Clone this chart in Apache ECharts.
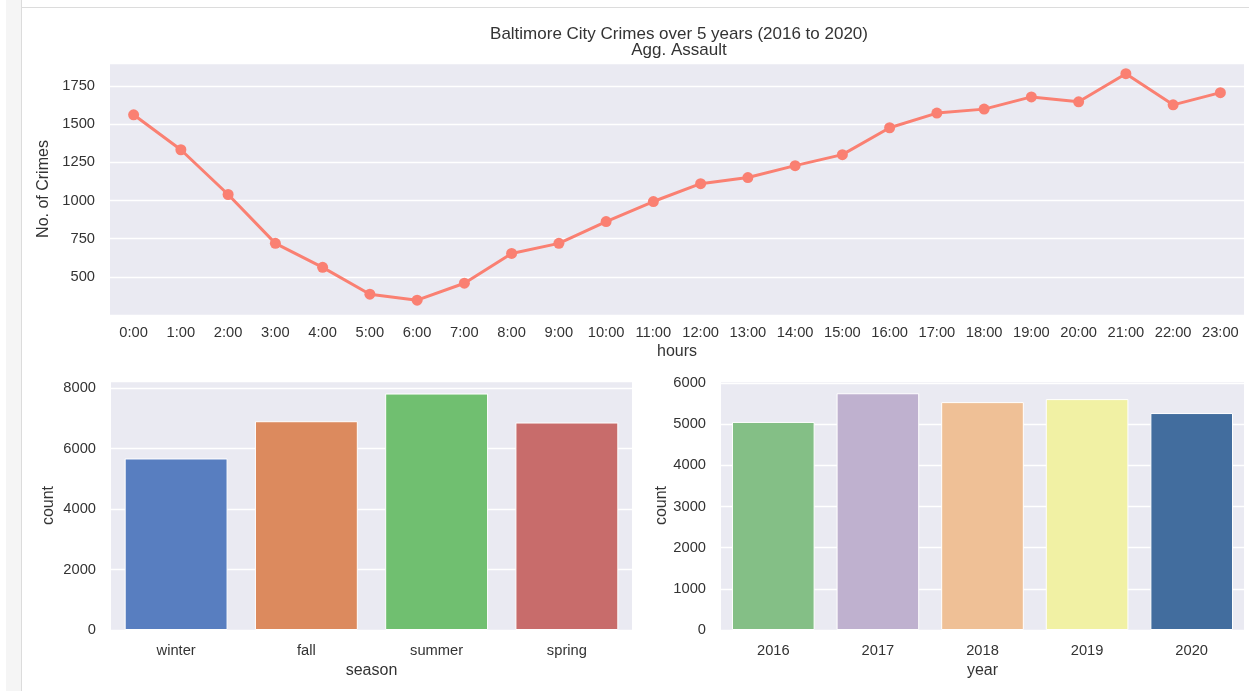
<!DOCTYPE html>
<html>
<head>
<meta charset="utf-8">
<script src="https://cdn.jsdelivr.net/npm/echarts@6/dist/echarts.min.js"></script>
<style>
html, body { margin: 0; padding: 0; background: #fff; }
#main { width: 1249px; height: 691px; }
</style>
</head>
<body>
<div id="main"></div>
<script>
var hours = ['0:00','1:00','2:00','3:00','4:00','5:00','6:00','7:00','8:00','9:00','10:00','11:00',
    '12:00','13:00','14:00','15:00','16:00','17:00','18:00','19:00','20:00','21:00','22:00','23:00'];
var hourCounts = [1561, 1332, 1039, 719, 562, 386, 347, 458, 653, 719, 862, 993,
    1110, 1150, 1228, 1300, 1476, 1572, 1598, 1678, 1646, 1830, 1626, 1706];

var seasons = ['winter', 'fall', 'summer', 'spring'];
var seasonCounts = [5676, 6909, 7825, 6866];
var seasonColors = ['#587ec0', '#dc8a5e', '#70bf70', '#c86c6b'];

var years = ['2016', '2017', '2018', '2019', '2020'];
var yearCounts = [5056, 5752, 5537, 5610, 5271];
var yearColors = ['#84bf86', '#bfb1cf', '#efc096', '#f1f1a4', '#426d9e'];

var font = 'Liberation Sans, Arial, sans-serif';
var txt = '#333';
var bg = '#eaeaf2';

function gridAxisY(min, max, interval, name, gap) {
    return {
        type: 'value',
        min: min,
        max: max,
        interval: interval,
        name: name,
        nameLocation: 'middle',
        nameGap: gap,
        nameTextStyle: { color: txt, fontSize: 16, fontFamily: font },
        axisLine: { show: false },
        axisTick: { show: false },
        axisLabel: {
            color: txt, fontSize: 14.7, fontFamily: font, margin: 15,
            formatter: function (v) { return String(v); }
        },
        splitLine: { lineStyle: { color: '#fff', width: 1.3 } }
    };
}

function catAxisX(data, name, gap, margin) {
    return {
        type: 'category',
        data: data,
        name: name,
        nameLocation: 'middle',
        nameGap: gap,
        nameTextStyle: { color: txt, fontSize: 16, fontFamily: font },
        axisLine: { show: false },
        axisTick: { show: false },
        axisLabel: { color: txt, fontSize: 14.7, fontFamily: font, margin: margin, interval: 0 },
        splitLine: { show: false }
    };
}

var chart = echarts.init(document.getElementById('main'));

var topY = gridAxisY(250, 1900, 250, 'No. of Crimes', 53);
topY.axisLabel.showMinLabel = false;
topY.axisLabel.showMaxLabel = false;

var leftY = gridAxisY(0, 8240, 2000, 'count', 54);
leftY.axisLabel.showMaxLabel = false;
var rightY = gridAxisY(0, 6050, 1000, 'count', 49);
rightY.axisLabel.showMaxLabel = false;

option = {
    backgroundColor: '#fff',
    animation: false,
    title: {
        text: 'Baltimore City Crimes over 5 years (2016 to 2020)\nAgg. Assault',
        left: 674,
        top: 21,
        textAlign: 'center',
        textStyle: { color: txt, fontSize: 17, fontWeight: 'normal', fontFamily: font, lineHeight: 16 }
    },
    graphic: [
        { type: 'rect', shape: { x: 6, y: 0, width: 15, height: 691 }, style: { fill: '#f5f5f5' }, silent: true },
        { type: 'rect', shape: { x: 21, y: 0, width: 1, height: 691 }, style: { fill: '#dcdcdc' }, silent: true },
        { type: 'rect', shape: { x: 21, y: 7, width: 1228, height: 1 }, style: { fill: '#dcdcdc' }, silent: true }
    ],
    grid: [
        { left: 110, right: 5, top: 63, bottom: 376, show: true, backgroundColor: bg, borderWidth: 0 },
        { left: 111, right: 617, top: 381, bottom: 61, show: true, backgroundColor: bg, borderWidth: 0 },
        { left: 721, right: 5, top: 381, bottom: 61, show: true, backgroundColor: bg, borderWidth: 0 }
    ],
    xAxis: [
        Object.assign(catAxisX(hours, 'hours', 29, 10), { gridIndex: 0 }),
        Object.assign(catAxisX(seasons, 'season', 33, 13), { gridIndex: 1 }),
        Object.assign(catAxisX(years, 'year', 33, 13), { gridIndex: 2 })
    ],
    yAxis: [
        Object.assign(topY, { gridIndex: 0 }),
        Object.assign(leftY, { gridIndex: 1 }),
        Object.assign(rightY, { gridIndex: 2 })
    ],
    series: [
        {
            type: 'line',
            xAxisIndex: 0,
            yAxisIndex: 0,
            data: hourCounts,
            symbol: 'circle',
            symbolSize: 11,
            lineStyle: { color: '#fa8072', width: 3 },
            itemStyle: { color: '#fa8072' }
        },
        {
            type: 'bar',
            xAxisIndex: 1,
            yAxisIndex: 1,
            barCategoryGap: '21%',
            data: seasonCounts.map(function (v, i) {
                return { value: v, itemStyle: { color: seasonColors[i] } };
            }),
            itemStyle: { borderColor: '#fff', borderWidth: 1 }
        },
        {
            type: 'bar',
            xAxisIndex: 2,
            yAxisIndex: 2,
            barCategoryGap: '21%',
            data: yearCounts.map(function (v, i) {
                return { value: v, itemStyle: { color: yearColors[i] } };
            }),
            itemStyle: { borderColor: '#fff', borderWidth: 1 }
        }
    ]
};

chart.setOption(option);
</script>
</body>
</html>
